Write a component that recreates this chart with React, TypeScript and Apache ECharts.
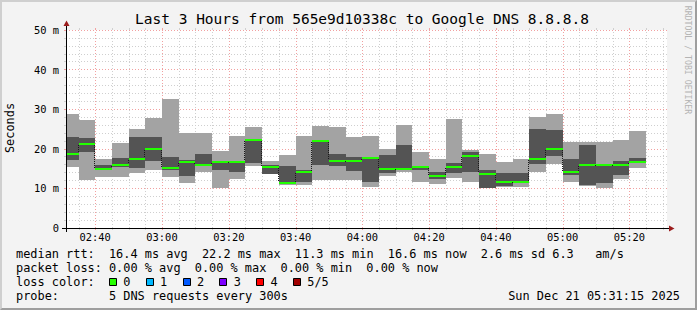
import React, { useEffect, useRef } from "react";
import * as echarts from "echarts";

// ---- data ----
const rangeStart = "02:31:15";
const rangeEnd = "05:31:15";
const stepMinutes = 5;

// end time of each 5-minute RRD step
const binEnds = [
  "02:35", "02:40", "02:45", "02:50", "02:55", "03:00", "03:05", "03:10", "03:15", "03:20",
  "03:25", "03:30", "03:35", "03:40", "03:45", "03:50", "03:55", "04:00", "04:05", "04:10",
  "04:15", "04:20", "04:25", "04:30", "04:35", "04:40", "04:45", "04:50", "04:55", "05:00",
  "05:05", "05:10", "05:15", "05:20", "05:25",
];
// sorted ping results (ms): lowest, 2nd, median, 4th, highest
const pingMin = [
  15.5, 12.0, 12.8, 12.8, 14.0, 14.6, 12.8, 11.4, 14.1, 10.2,
  12.4, 15.7, 13.6, 10.8, 10.9, 12.0, 12.1, 12.1, 10.4, 13.1,
  14.2, 11.7, 11.2, 12.7, 11.7, 10.2, 10.4, 10.4, 14.1, 16.2,
  11.7, 10.6, 10.2, 12.4, 15.1,
];
const pingLow = [
  17.2, 19.2, 14.7, 15.3, 15.2, 16.8, 14.6, 13.1, 15.6, 14.6,
  14.1, 16.5, 13.6, 11.0, 11.7, 15.9, 15.6, 14.4, 11.5, 14.0,
  14.6, 14.6, 12.5, 14.0, 14.2, 10.2, 10.7, 11.4, 16.2, 18.2,
  13.5, 10.8, 11.3, 13.4, 16.3,
];
const median = [
  18.6, 21.1, 15.0, 16.0, 17.5, 20.0, 15.1, 16.7, 16.0, 16.7,
  16.7, 22.2, 15.3, 11.3, 14.2, 22.0, 17.0, 17.0, 17.6, 14.9,
  14.9, 15.4, 13.1, 15.4, 18.3, 13.6, 11.6, 11.6, 17.5, 20.0,
  14.2, 16.0, 16.0, 16.0, 16.6,
];
const pingHigh = [
  23.0, 22.8, 15.9, 17.7, 23.0, 23.0, 17.9, 17.1, 18.7, 16.9,
  16.9, 22.3, 15.8, 15.6, 14.6, 22.2, 18.7, 17.9, 18.0, 18.4,
  21.0, 15.6, 14.2, 16.4, 19.2, 14.6, 13.8, 13.8, 25.0, 24.8,
  17.4, 21.0, 16.1, 16.9, 17.6,
];
const pingMax = [
  28.8, 27.3, 17.4, 21.5, 25.0, 27.8, 32.6, 24.1, 24.1, 19.4,
  23.2, 25.6, 17.0, 18.4, 23.2, 25.8, 25.5, 23.0, 23.2, 19.9,
  26.0, 19.2, 17.4, 27.5, 19.7, 18.7, 16.7, 17.4, 28.0, 28.8,
  21.8, 21.8, 21.8, 22.2, 24.5,
];

const xTickLabels = ["02:40", "03:00", "03:20", "03:40", "04:00", "04:20", "04:40", "05:00", "05:20"];
const yTickValues = [0, 10, 20, 30, 40, 50];

const titleText = "Last 3 Hours from 565e9d10338c to Google DNS 8.8.8.8";
const rttStats = ["16.4 ms avg", "22.2 ms max", "11.3 ms min", "16.6 ms now", "2.6 ms sd", "6.3", "am/s"];
const lossStats = ["0.00 % avg", "0.00 % max", "0.00 % min", "0.00 % now"];
const lossLabels = ["0", "1", "2", "3", "4", "5/5"];
const lossColors = ["#26ff00", "#00b8ff", "#0059ff", "#7e00ff", "#ff0000", "#a10000"];
const probeText = "5 DNS requests every 300s";
const dateText = "Sun Dec 21 05:31:15 2025";

// ---- helpers ----
const toMin = (s: string) => {
  const [h, m, sec] = s.split(":");
  return +h * 60 + +m + (sec ? +sec / 60 : 0);
};
const fmt = (v: number) => {
  const h = Math.floor(v / 60);
  const m = Math.round(v - h * 60);
  return String(h).padStart(2, "0") + ":" + String(m).padStart(2, "0");
};

const X_MIN = toMin(rangeStart);
const X_MAX = toMin(rangeEnd);

const G = { left: 66, top: 30, width: 601, height: 198 };
const MONO = "DejaVu Sans Mono";
const LIGHT = "#a3a3a3";
const DARK = "#545454";
const GREEN = "#22ff00";
const MINOR = "#cfcfcf";
const MAJOR = "#f2a0a0";
const ARROW = "#9b1c1c";

const CW = 7.15; // legend char width
const LX = 16;
const colX = (c: number) => LX + c * CW;

export default function App() {
  const ref = useRef<HTMLDivElement>(null);

  useEffect(() => {
    if (!ref.current) return;
    const chart = echarts.init(ref.current, undefined, { renderer: "svg" });

    const smokeData = binEnds.map((t, i) => [toMin(t), pingMin[i], pingLow[i], median[i], pingHigh[i], pingMax[i]]);
    const medData = binEnds.map((t, i) => [toMin(t), median[i]]);
    const transData = binEnds.slice(1).map((t, i) => [toMin(t) - stepMinutes, median[i], median[i + 1]]);

    const gridTimes: number[][] = [];
    for (let t = Math.ceil(X_MIN / stepMinutes) * stepMinutes; t <= X_MAX; t += stepMinutes) {
      gridTimes.push([t, t % 20 === 0 ? 1 : 0]);
    }

    const px = (api: any, x: number, y: number) => api.coord([x, y]);

    const bottom = G.top + G.height;
    const right = G.left + G.width;

    const lineY = [254, 268, 282, 295.5];
    const textStyle = (extra: any) => ({ fontFamily: MONO, fontSize: 11.9, fill: "#000", ...extra });

    const graphics: any[] = [];
    // title
    graphics.push({
      type: "text", x: 362, y: 19,
      style: { text: titleText, fontFamily: MONO, fontSize: 14.5, fill: "#000", align: "center", verticalAlign: "middle" },
    });
    // unit label
    graphics.push({
      type: "text", x: 10, y: 128, rotation: Math.PI / 2,
      style: { text: "Seconds", fontFamily: MONO, fontSize: 11.9, fill: "#000", align: "center", verticalAlign: "middle" },
    });
    // watermark
    graphics.push({
      type: "text", x: 688, y: 60, rotation: -Math.PI / 2,
      style: { text: "RRDTOOL / TOBI OETIKER", fontFamily: MONO, fontSize: 8.2, fill: "#b4b4b4", align: "center", verticalAlign: "middle" },
    });
    // axes with arrows
    graphics.push({ type: "line", shape: { x1: G.left + 0.5, y1: bottom + 4, x2: G.left + 0.5, y2: G.top - 4 }, style: { stroke: "#000", lineWidth: 1 }, z: 50 });
    graphics.push({ type: "line", shape: { x1: G.left - 4, y1: bottom + 0.5, x2: right + 2, y2: bottom + 0.5 }, style: { stroke: "#000", lineWidth: 1 }, z: 50 });
    graphics.push({
      type: "polygon", shape: { points: [[G.left - 2.5, G.top - 4], [G.left + 3.5, G.top - 4], [G.left + 0.5, G.top - 9.5]] },
      style: { fill: ARROW }, z: 51,
    });
    graphics.push({
      type: "polygon", shape: { points: [[right + 2, bottom - 2.5], [right + 2, bottom + 3.5], [right + 7.5, bottom + 0.5]] },
      style: { fill: ARROW }, z: 51,
    });

    // legend line 1
    graphics.push({ type: "text", x: LX, y: lineY[0], style: textStyle({ text: "median rtt:", verticalAlign: "middle" }) });
    const rttCols = [13, 26, 39, 52, 65, 75, 81];
    rttStats.forEach((s, i) =>
      graphics.push({ type: "text", x: colX(rttCols[i]), y: lineY[0], style: textStyle({ text: s, verticalAlign: "middle" }) })
    );
    // legend line 2
    graphics.push({ type: "text", x: LX, y: lineY[1], style: textStyle({ text: "packet loss:", verticalAlign: "middle" }) });
    lossStats.forEach((s, i) =>
      graphics.push({ type: "text", x: colX(13 + i * 12), y: lineY[1], style: textStyle({ text: s, verticalAlign: "middle" }) })
    );
    // legend line 3
    graphics.push({ type: "text", x: LX, y: lineY[2], style: textStyle({ text: "loss color:", verticalAlign: "middle" }) });
    lossLabels.forEach((s, i) => {
      const x0 = 109 + i * 36.8;
      graphics.push({
        type: "rect", shape: { x: Math.round(x0) + 0.5, y: 278.5, width: 7, height: 7 },
        style: { fill: lossColors[i], stroke: "#000", lineWidth: 1 },
      });
      graphics.push({ type: "text", x: x0 + 14.3, y: lineY[2], style: textStyle({ text: s, verticalAlign: "middle" }) });
    });
    // legend line 4
    graphics.push({ type: "text", x: LX, y: lineY[3], style: textStyle({ text: "probe:", verticalAlign: "middle" }) });
    graphics.push({ type: "text", x: colX(13), y: lineY[3], style: textStyle({ text: probeText, verticalAlign: "middle" }) });
    graphics.push({ type: "text", x: 680, y: lineY[3], style: textStyle({ text: dateText, align: "right", verticalAlign: "middle" }) });

    const option: any = {
      animation: false,
      backgroundColor: "#f3f3f3",
      grid: { left: G.left, top: G.top, width: G.width, height: G.height, backgroundColor: "#ffffff", show: true, borderWidth: 0 },
      xAxis: {
        type: "value",
        min: X_MIN,
        max: X_MAX,
        axisLine: { show: false },
        axisTick: { show: false },
        splitLine: { show: false },
        axisLabel: {
          customValues: xTickLabels.map(toMin),
          formatter: (v: number) => fmt(v),
          fontFamily: MONO,
          fontSize: 10.4,
          color: "#000",
          margin: 4,
        },
      },
      yAxis: {
        type: "value",
        min: yTickValues[0],
        max: yTickValues[yTickValues.length - 1],
        interval: 10,
        axisLine: { show: false },
        axisTick: { show: true, length: 2, lineStyle: { color: MAJOR } },
        minorTick: { show: true, splitNumber: 5, length: 2, lineStyle: { color: MINOR } },
        splitLine: { show: true, lineStyle: { color: MAJOR, type: [1, 2], width: 1 } },
        minorSplitLine: { show: true, lineStyle: { color: MINOR, type: [1, 2], width: 1 } },
        axisLabel: {
          formatter: (v: number) => (v === 0 ? "0" : `${v} m`),
          fontFamily: MONO,
          fontSize: 10.4,
          color: "#000",
          margin: 7,
        },
      },
      graphic: graphics,
      series: [
        {
          name: "vgrid",
          type: "custom",
          z: 1,
          silent: true,
          data: gridTimes,
          encode: { x: 0, y: 1 },
          renderItem: (params: any, api: any) => {
            const t = api.value(0);
            const major = api.value(1) === 1;
            const c = major ? MAJOR : MINOR;
            const x = Math.round(px(api, t, 0)[0]) + 0.5;
            const yb = px(api, t, yTickValues[0])[1];
            const yt = px(api, t, yTickValues[yTickValues.length - 1])[1];
            return {
              type: "group",
              children: [
                { type: "line", shape: { x1: x, y1: yb, x2: x, y2: yt }, style: { stroke: c, lineWidth: 1, lineDash: [1, 2] } },
                { type: "line", shape: { x1: x, y1: yt - 2, x2: x, y2: yt }, style: { stroke: c, lineWidth: 1 } },
                { type: "line", shape: { x1: x, y1: yb, x2: x, y2: yb + 2 }, style: { stroke: c, lineWidth: 1 } },
              ],
            };
          },
        },
        {
          name: "smoke",
          type: "custom",
          z: 3,
          silent: true,
          data: smokeData,
          encode: { x: 0, y: [1, 5] },
          renderItem: (params: any, api: any) => {
            const end = api.value(0);
            const start = Math.max(end - stepMinutes, X_MIN);
            const x0 = Math.round(px(api, start, 0)[0]);
            const x1 = Math.round(px(api, end, 0)[0]);
            const y = (d: number) => Math.round(px(api, end, api.value(d))[1]);
            const yMin = y(1), yLow = y(2), yHigh = y(4), yMax = y(5);
            return {
              type: "group",
              children: [
                { type: "rect", shape: { x: x0, y: yMax, width: x1 - x0, height: yMin - yMax }, style: { fill: LIGHT } },
                { type: "rect", shape: { x: x0, y: yHigh, width: x1 - x0, height: Math.max(yLow - yHigh, 1) }, style: { fill: DARK } },
              ],
            };
          },
        },
        {
          name: "median",
          type: "custom",
          z: 4,
          silent: true,
          data: medData,
          encode: { x: 0, y: 1 },
          renderItem: (params: any, api: any) => {
            const end = api.value(0);
            const start = Math.max(end - stepMinutes, X_MIN);
            const x0 = Math.round(px(api, start, 0)[0]);
            const x1 = Math.round(px(api, end, 0)[0]);
            const ym = Math.round(px(api, end, api.value(1))[1]);
            return { type: "rect", shape: { x: x0, y: ym - 1, width: x1 - x0, height: 2 }, style: { fill: GREEN } };
          },
        },
        {
          name: "steps",
          type: "custom",
          z: 5,
          silent: true,
          data: transData,
          encode: { x: 0, y: [1, 2] },
          renderItem: (params: any, api: any) => {
            const t = api.value(0);
            const x = Math.round(px(api, t, 0)[0]) - 0.5;
            const ya = Math.round(px(api, t, api.value(1))[1]);
            const yb = Math.round(px(api, t, api.value(2))[1]);
            return {
              type: "line",
              shape: { x1: x, y1: Math.min(ya, yb) + 1, x2: x, y2: Math.max(ya, yb) - 1 },
              style: { stroke: "#1a1a1a", lineWidth: 1, lineDash: [1, 1] },
            };
          },
        },
      ],
    };

    chart.setOption(option);
    return () => chart.dispose();
  }, []);

  return (
    <div style={{ position: "fixed", left: 0, top: 0, width: 697, height: 310, background: "#f3f3f3" }}>
      <div ref={ref} style={{ position: "absolute", left: 0, top: 0, width: 697, height: 310 }} />
      <div
        style={{
          position: "absolute", left: 0, top: 0, width: 697, height: 310, boxSizing: "border-box",
          borderTop: "2px solid #cfcfcf", borderLeft: "2px solid #cfcfcf",
          borderBottom: "2px solid #9e9e9e", borderRight: "2px solid #9e9e9e", pointerEvents: "none",
        }}
      />
    </div>
  );
}
